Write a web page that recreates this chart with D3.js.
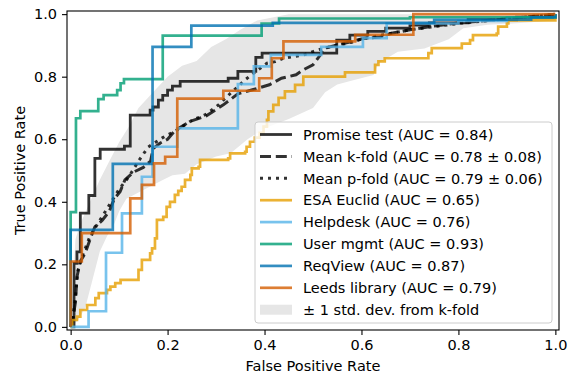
<!DOCTYPE html>
<html>
<head>
<meta charset="utf-8">
<script src="https://cdn.jsdelivr.net/npm/d3@7"></script>
<style>
  body { margin: 0; background: #fff; }
  text { font-family: "DejaVu Sans", sans-serif; fill: #000; }
</style>
</head>
<body>
<svg id="chart" width="568" height="374"></svg>
<script>
// ROC step curves, points are left ends of horizontal runs [fpr, tpr]
var promiseTest = [[0,0],[0.007,0.203],[0.013,0.24],[0.02,0.364],[0.0375,0.42],[0.05,0.539],[0.061,0.568],[0.111,0.578],
  [0.123,0.677],[0.164,0.693],[0.17,0.703],[0.181,0.725],[0.19,0.74],[0.2,0.757],[0.21,0.77],[0.226,0.785],[0.325,0.795],
  [0.345,0.817],[0.382,0.862],[0.395,0.875],[0.549,0.917],[0.576,0.933],[0.613,0.945],[0.65,0.955],[0.7,0.965],
  [0.74,0.972],[0.82,0.982],[0.92,0.99],[1,1]];
var esaEuclid = [[0,0],[0.003,0.022],[0.013,0.033],[0.02,0.054],[0.034,0.07],[0.051,0.092],[0.058,0.108],[0.075,0.118],
  [0.082,0.129],[0.092,0.14],[0.103,0.15],[0.14,0.182],[0.147,0.214],[0.164,0.235],[0.168,0.251],[0.174,0.283],
  [0.178,0.342],[0.191,0.352],[0.198,0.384],[0.205,0.4],[0.215,0.422],[0.222,0.435],[0.229,0.448],[0.236,0.47],
  [0.247,0.486],[0.25,0.507],[0.264,0.512],[0.267,0.534],[0.325,0.539],[0.329,0.555],[0.36,0.56],[0.363,0.576],
  [0.37,0.592],[0.38,0.605],[0.39,0.62],[0.398,0.64],[0.405,0.662],[0.408,0.689],[0.418,0.71],[0.429,0.732],
  [0.442,0.753],[0.463,0.774],[0.48,0.8],[0.566,0.814],[0.628,0.838],[0.635,0.849],[0.648,0.859],[0.738,0.875],
  [0.745,0.891],[0.807,0.906],[0.824,0.917],[0.83,0.933],[0.879,0.938],[0.882,0.96],[0.9,0.97],[0.903,0.98],[1,1]];
var helpdesk = [[0,0],[0.037,0.05],[0.073,0.237],[0.106,0.363],[0.147,0.48],[0.169,0.576],[0.22,0.635],[0.345,0.776],
  [0.378,0.833],[0.413,0.87],[0.517,0.895],[0.603,0.923],[0.652,0.97],[0.8,0.978],[0.9,0.99],[1,1]];
var userMgmt = [[0,0],[0,0.367],[0.011,0.667],[0.02,0.69],[0.057,0.728],[0.068,0.741],[0.096,0.757],[0.103,0.779],
  [0.11,0.792],[0.19,0.931],[0.394,0.97],[0.43,0.986],[0.7,0.99],[1,1]];
var reqView = [[0,0],[0,0.31],[0.087,0.521],[0.169,0.895],[0.249,0.963],[0.417,0.972],[0.75,0.982],[0.95,0.99],[1,1]];
var leedsLibrary = [[0,0],[0,0.209],[0.023,0.3],[0.123,0.411],[0.147,0.454],[0.172,0.523],[0.195,0.544],[0.22,0.73],
  [0.315,0.755],[0.389,0.795],[0.415,0.859],[0.439,0.913],[0.587,0.934],[0.707,1],[1,1]];

// mean curves
var meanKFold = [[0,0],[0.005,0.03],[0.01,0.08],[0.013,0.16],[0.02,0.21],[0.03,0.235],[0.04,0.28],[0.05,0.32],
  [0.065,0.34],[0.08,0.37],[0.09,0.41],[0.102,0.432],[0.112,0.47],[0.13,0.495],[0.15,0.51],[0.165,0.53],[0.17,0.57],
  [0.185,0.588],[0.2,0.6],[0.213,0.624],[0.223,0.635],[0.245,0.656],[0.28,0.675],[0.315,0.71],[0.345,0.745],
  [0.375,0.758],[0.41,0.774],[0.435,0.795],[0.465,0.806],[0.48,0.822],[0.5,0.838],[0.515,0.869],[0.521,0.89],
  [0.549,0.901],[0.576,0.911],[0.604,0.922],[0.638,0.927],[0.66,0.938],[0.7,0.95],[0.75,0.962],[0.8,0.972],
  [0.9,0.985],[1,1]];
var meanPFold = [[0,0],[0.005,0.03],[0.01,0.1],[0.015,0.18],[0.025,0.23],[0.04,0.29],[0.06,0.34],[0.08,0.39],
  [0.1,0.44],[0.12,0.48],[0.14,0.53],[0.16,0.575],[0.19,0.605],[0.22,0.63],[0.25,0.66],[0.28,0.68],[0.305,0.71],
  [0.332,0.75],[0.36,0.79],[0.391,0.827],[0.405,0.843],[0.422,0.848],[0.439,0.859],[0.459,0.864],[0.48,0.869],
  [0.5,0.88],[0.52,0.89],[0.55,0.9],[0.58,0.91],[0.6,0.92],[0.65,0.935],[0.7,0.95],[0.8,0.97],[0.9,0.985],[1,1]];

// +-1 std band of k-fold
var bandUpper = [[0,0],[0.005,0.15],[0.01,0.28],[0.02,0.33],[0.04,0.4],[0.06,0.47],[0.08,0.53],[0.1,0.59],
  [0.12,0.64],[0.14,0.7],[0.17,0.75],[0.2,0.8],[0.23,0.835],[0.26,0.85],[0.29,0.895],[0.32,0.92],[0.35,0.95],
  [0.385,0.98],[0.45,1],[1,1]];
var bandLower = [[0,0],[0.015,0.02],[0.03,0.06],[0.045,0.15],[0.06,0.24],[0.075,0.29],[0.09,0.33],[0.1,0.37],
  [0.115,0.41],[0.14,0.43],[0.165,0.45],[0.19,0.47],[0.21,0.485],[0.236,0.49],[0.26,0.52],[0.3,0.545],[0.33,0.555],
  [0.365,0.6],[0.4,0.635],[0.45,0.665],[0.5,0.7],[0.525,0.75],[0.55,0.775],[0.575,0.785],[0.625,0.805],
  [0.635,0.843],[0.675,0.88],[0.73,0.89],[0.78,0.92],[0.81,0.955],[0.86,0.966],[0.92,0.971],[1,0.98]];

var legendLabels = ["Promise test (AUC = 0.84)", "Mean k-fold (AUC = 0.78 \u00b1 0.08)", "Mean p-fold (AUC = 0.79 \u00b1 0.06)",
  "ESA Euclid (AUC = 0.65)", "Helpdesk (AUC = 0.76)", "User mgmt (AUC = 0.93)", "ReqView (AUC = 0.87)",
  "Leeds library (AUC = 0.79)", "\u00b1 1 std. dev. from k-fold"];
var tickValues = [0, 0.2, 0.4, 0.6, 0.8, 1.0];

var svg = d3.select("#chart");
var margin = { top: 11, right: 9, bottom: 44, left: 67 };
var width = 568 - margin.left - margin.right;
var height = 374 - margin.top - margin.bottom;

var g = svg.append("g").attr("transform", "translate(" + margin.left + "," + margin.top + ")");

var x = d3.scaleLinear().domain([-0.0075, 1.0075]).range([0, width]);
var y = d3.scaleLinear().domain([-0.01, 1.01]).range([height, 0]);

var stepLine = d3.line().x(d => x(d[0])).y(d => y(d[1])).curve(d3.curveStepAfter);
var smoothLine = d3.line().x(d => x(d[0])).y(d => y(d[1]));

// std band
g.append("path")
  .attr("d", smoothLine(bandUpper.concat(bandLower.slice().reverse())) + "Z")
  .attr("fill", "#e6e6e6");

var series = [
  { data: promiseTest, color: "#000", line: stepLine, width: 2.8, dash: null },
  { data: meanKFold, color: "#000", line: smoothLine, width: 3, dash: "11,4.8" },
  { data: meanPFold, color: "#000", line: smoothLine, width: 3, dash: "3,5" },
  { data: esaEuclid, color: "#E69F00", line: stepLine, width: 2.7, dash: null },
  { data: helpdesk, color: "#56B4E9", line: stepLine, width: 2.7, dash: null },
  { data: userMgmt, color: "#009E73", line: stepLine, width: 2.7, dash: null },
  { data: reqView, color: "#0072B2", line: stepLine, width: 2.7, dash: null },
  { data: leedsLibrary, color: "#D55E00", line: stepLine, width: 2.7, dash: null }
];

series.forEach(s => {
  g.append("path")
    .attr("d", s.line(s.data))
    .attr("fill", "none")
    .attr("stroke", s.color)
    .attr("stroke-opacity", 0.8)
    .attr("stroke-width", s.width)
    .attr("stroke-dasharray", s.dash);
});

// axes
var xAxis = g.append("g")
  .attr("transform", "translate(0," + height + ")")
  .call(d3.axisBottom(x).tickValues(tickValues).tickFormat(d3.format(".1f")).tickSize(5).tickPadding(4.5));
var yAxis = g.append("g")
  .call(d3.axisLeft(y).tickValues(tickValues).tickFormat(d3.format(".1f")).tickSize(5).tickPadding(5));
[xAxis, yAxis].forEach(a => {
  a.select(".domain").remove();
  a.selectAll(".tick line").attr("stroke", "#000").attr("stroke-width", 1.1);
  a.selectAll(".tick text").style("font-size", "14.5px").style("font-family", "DejaVu Sans").attr("fill", "#000");
});

g.append("rect")
  .attr("width", width).attr("height", height)
  .attr("fill", "none").attr("stroke", "#000").attr("stroke-width", 1.1);

g.append("text")
  .attr("x", width / 2).attr("y", height + 41)
  .attr("text-anchor", "middle")
  .style("font-size", "14.5px")
  .text("False Positive Rate");

g.append("text")
  .attr("transform", "translate(" + (-42) + "," + (height / 2) + ") rotate(-90)")
  .attr("text-anchor", "middle")
  .style("font-size", "14.5px")
  .text("True Positive Rate");

// legend
var legend = g.append("g").attr("transform", "translate(" + (255 - margin.left) + "," + (122 - margin.top) + ")");
legend.append("rect")
  .attr("width", 297).attr("height", 201)
  .attr("rx", 3)
  .attr("fill", "#fff").attr("fill-opacity", 0.8)
  .attr("stroke", "#ccc").attr("stroke-width", 1);

legendLabels.forEach((label, i) => {
  var ly = 12.5 + i * 21.9;
  var item = legend.append("g").attr("transform", "translate(0," + ly + ")");
  if (i < series.length) {
    var s = series[i];
    item.append("line")
      .attr("x1", 5).attr("x2", 37)
      .attr("stroke", s.color).attr("stroke-opacity", 0.8)
      .attr("stroke-width", s.width)
      .attr("stroke-dasharray", s.dash);
  } else {
    item.append("rect")
      .attr("x", 5).attr("y", -5).attr("width", 32).attr("height", 10)
      .attr("fill", "#e6e6e6");
  }
  item.append("text")
    .attr("x", 48).attr("dy", "0.36em")
    .style("font-size", "14.5px")
    .text(label);
});
</script>
</body>
</html>
